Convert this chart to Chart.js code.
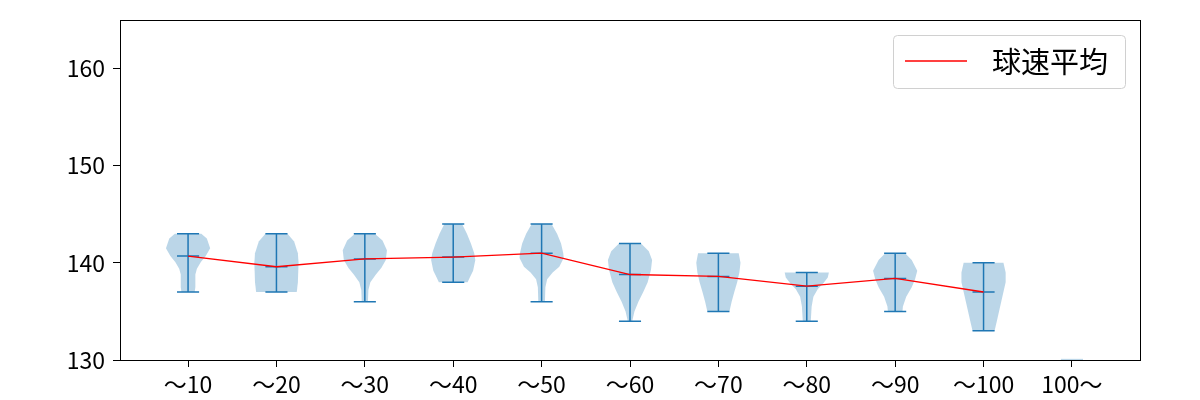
<!DOCTYPE html>
<html>
<head>
<meta charset="utf-8">
<script src="https://cdn.jsdelivr.net/npm/chart.js@4.4.0/dist/chart.umd.min.js"></script>
<style>
  body { margin: 0; background: #fff; }
  #wrap { width: 1200px; height: 400px; }
</style>
</head>
<body>
<div id="wrap"><canvas id="myChart" width="1200" height="400"></canvas></div>
<script>
var categories = ["～10", "～20", "～30", "～40", "～50", "～60", "～70", "～80", "～90", "～100", "100～"];
var maxVals  = [143, 143, 143, 144, 144, 142, 141, 139, 141, 140, null];
var minVals  = [137, 137, 136, 138, 136, 134, 135, 134, 135, 133, null];
var meanVals = [140.7, 139.6, 140.4, 140.6, 141.0, 138.8, 138.6, 137.6, 138.4, 137.0, null];
var yTicks = [130, 140, 150, 160];
var legendLabel = "球速平均";

// violin outline: [speed, relative half width]
var violinProfiles = [
    [[137,0.3],[137.5,0.33],[138.8,0.33],[139.4,0.4],[140.1,0.58],[140.7,0.8],[141.5,1.0],[142.5,0.85],[143,0.6]],
    [[137,0.92],[138,0.97],[140,1.0],[141,0.97],[142.2,0.8],[143,0.5]],
    [[136,0.14],[137.2,0.16],[138,0.25],[138.8,0.5],[139.5,0.75],[140.3,0.95],[141.3,1.0],[142.3,0.8],[143,0.45]],
    [[138,0.65],[138.5,0.75],[139.2,0.9],[140.3,1.0],[141,0.95],[142,0.8],[143,0.62],[144,0.4]],
    [[136,0.15],[137.5,0.17],[138.3,0.25],[139,0.5],[139.6,0.8],[140.5,1.0],[141,0.98],[142,0.88],[143,0.7],[144,0.45]],
    [[134,0.1],[135,0.2],[136,0.38],[137,0.6],[138,0.8],[139.3,0.95],[140.3,1.0],[141.2,0.85],[142,0.5]],
    [[135,0.5],[136,0.6],[137,0.72],[138,0.85],[139,0.95],[140,1.0],[141,0.92]],
    [[134,0.18],[135.5,0.22],[136.5,0.3],[137.3,0.5],[137.9,0.75],[138.5,0.95],[139,1.0]],
    [[135,0.33],[135.5,0.35],[136.5,0.5],[137.5,0.75],[138.3,0.9],[139.2,1.0],[140.3,0.75],[141,0.45]],
    [[133,0.5],[134,0.6],[135,0.7],[136,0.8],[137,0.9],[138,1.0],[139,1.0],[140,0.9]],
    [[130,0.5],[130.12,0.5]]
];

var violinPlugin = {
    id: "violins",
    beforeDatasetsDraw: function(chart) {
        var ctx = chart.ctx;
        var xs = chart.scales.x, ys = chart.scales.y;
        var area = chart.chartArea;
        ctx.save();
        ctx.beginPath();
        ctx.rect(area.left, area.top, area.right - area.left, area.bottom - area.top);
        ctx.clip();
        for (var i = 0; i < violinProfiles.length; i++) {
            var p = violinProfiles[i];
            var c = i + 1;
            ctx.beginPath();
            for (var j = 0; j < p.length; j++) {
                var px = xs.getPixelForValue(c + p[j][1] * 0.25);
                var py = ys.getPixelForValue(p[j][0]);
                if (j == 0) ctx.moveTo(px, py); else ctx.lineTo(px, py);
            }
            for (var k = p.length - 1; k >= 0; k--) {
                ctx.lineTo(xs.getPixelForValue(c - p[k][1] * 0.25), ys.getPixelForValue(p[k][0]));
            }
            ctx.closePath();
            ctx.fillStyle = "rgba(31,119,180,0.3)";
            ctx.fill();
        }
        // whiskers
        ctx.strokeStyle = "#1f77b4";
        ctx.lineWidth = 1.5;
        for (var i = 0; i < maxVals.length; i++) {
            if (maxVals[i] == null) continue;
            var cx = xs.getPixelForValue(i + 1);
            var l = xs.getPixelForValue(i + 1 - 0.125), r = xs.getPixelForValue(i + 1 + 0.125);
            var yt = ys.getPixelForValue(maxVals[i]), yb = ys.getPixelForValue(minVals[i]), ym = ys.getPixelForValue(meanVals[i]);
            ctx.beginPath();
            ctx.moveTo(cx, yt); ctx.lineTo(cx, yb);
            ctx.moveTo(l, yt); ctx.lineTo(r, yt);
            ctx.moveTo(l, yb); ctx.lineTo(r, yb);
            ctx.moveTo(l, ym); ctx.lineTo(r, ym);
            ctx.stroke();
        }
        ctx.restore();
    },
    afterDraw: function(chart) {
        var ctx = chart.ctx;
        var a = chart.chartArea;
        ctx.save();
        ctx.strokeStyle = "#000";
        ctx.lineWidth = 1;
        ctx.strokeRect(Math.round(a.left) + 0.5, Math.round(a.top) + 0.5, Math.round(a.right - a.left), Math.round(a.bottom - a.top));

        // legend box, matplotlib style
        var bx = a.right - 247, by = a.top + 15, bw = 232, bh = 53;
        ctx.beginPath();
        ctx.roundRect(bx + 0.5, by + 0.5, bw, bh, 4);
        ctx.fillStyle = "rgba(255,255,255,0.8)";
        ctx.fill();
        ctx.strokeStyle = "#d0d0d0";
        ctx.stroke();
        ctx.beginPath();
        ctx.strokeStyle = "red";
        ctx.lineWidth = 1.5;
        ctx.moveTo(bx + 12, by + 26);
        ctx.lineTo(bx + 74, by + 26);
        ctx.stroke();
        ctx.fillStyle = "#000";
        ctx.font = "29px 'Noto Sans CJK JP'";
        ctx.textBaseline = "middle";
        ctx.fillText(legendLabel, bx + 99, by + 27);
        ctx.restore();
    }
};

window.onload = function() {
    var ctx = document.getElementById("myChart");
    var meanPoints = [];
    for (var i = 0; i < meanVals.length; i++) {
        meanPoints.push({x: i + 1, y: meanVals[i]});
    }
    var myChart = new Chart(ctx, {
        type: "line",
        data: {
            datasets: [{
                label: legendLabel,
                data: meanPoints,
                borderColor: "red",
                borderWidth: 1.3,
                pointRadius: 0,
                fill: false,
                tension: 0
            }]
        },
        options: {
            responsive: false,
            animation: false,
            layout: { padding: { top: 20, right: 60, left: 0, bottom: 0 } },
            plugins: { legend: { display: false }, tooltip: { enabled: false } },
            scales: {
                x: {
                    type: "linear",
                    min: 0.23,
                    max: 11.77,
                    afterBuildTicks: function(s) {
                        s.ticks = categories.map(function(c, i) { return {value: i + 1}; });
                    },
                    afterFit: function(s) { s.height = 40; },
                    ticks: {
                        autoSkip: false,
                        maxRotation: 0,
                        padding: 3,
                        color: "#000",
                        font: { family: "'Noto Sans CJK JP'", size: 23 },
                        callback: function(v) { return categories[Math.round(v) - 1]; }
                    },
                    grid: { drawOnChartArea: false, tickLength: 7, color: "#000" },
                    border: { display: false }
                },
                y: {
                    min: 130,
                    max: 165,
                    afterBuildTicks: function(s) {
                        s.ticks = yTicks.map(function(v) { return {value: v}; });
                    },
                    afterFit: function(s) {
                        s.width = 120;
                        s.paddingTop = 0;
                        s.paddingBottom = 0;
                    },
                    ticks: {
                        padding: 8,
                        color: "#000",
                        font: { family: "'Noto Sans CJK JP'", size: 23 }
                    },
                    grid: { drawOnChartArea: false, tickLength: 7, color: "#000" },
                    border: { display: false }
                }
            }
        },
        plugins: [violinPlugin]
    });
};
</script>
</body>
</html>
